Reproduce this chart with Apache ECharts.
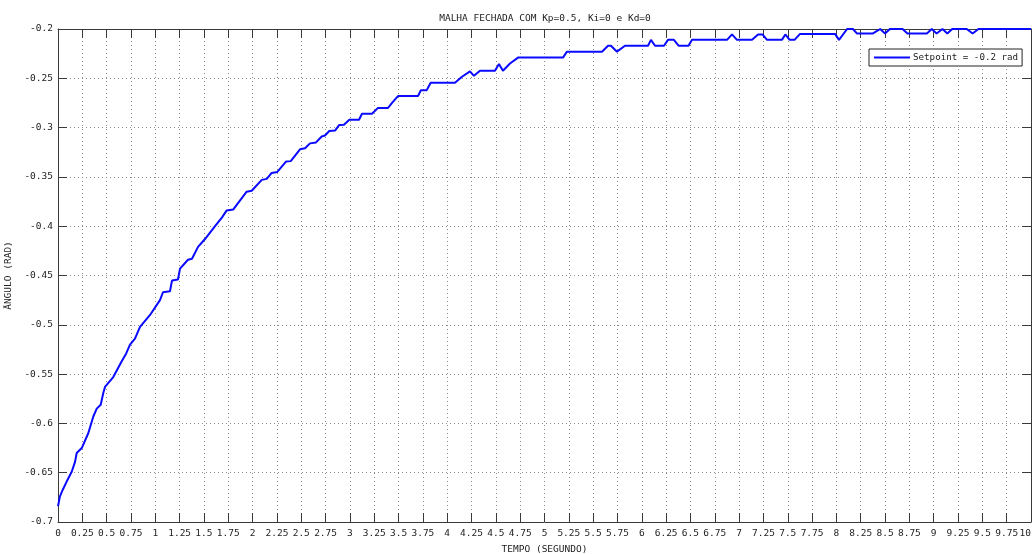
<!DOCTYPE html>
<html>
<head>
<meta charset="utf-8">
<script src="https://cdn.jsdelivr.net/npm/echarts@6/dist/echarts.min.js"></script>
<style>
  html, body { margin: 0; padding: 0; background: #fff; }
  #chart { width: 1033px; height: 554px; }
</style>
</head>
<body>
<div id="chart"></div>
<script>
// Closed-loop angle response (Kp=0.5, Ki=0, Kd=0)
const tempo = [
  0.000, 0.020, 0.048, 0.089, 0.141, 0.175, 0.192, 0.244, 0.311, 0.363,
  0.398, 0.439, 0.466, 0.483, 0.568, 0.655, 0.701, 0.740, 0.791, 0.843,
  0.946, 1.048, 1.079, 1.151, 1.172, 1.233, 1.254, 1.336, 1.377, 1.439,
  1.511, 1.614, 1.686, 1.734, 1.802, 1.939, 1.991, 2.094, 2.145, 2.196,
  2.254, 2.343, 2.392, 2.487, 2.539, 2.590, 2.652, 2.710, 2.744, 2.788,
  2.847, 2.891, 2.939, 2.994, 3.094, 3.124, 3.227, 3.289, 3.392, 3.433,
  3.494, 3.700, 3.730, 3.790, 3.830, 4.080, 4.152, 4.234, 4.275, 4.337,
  4.491, 4.532, 4.573, 4.645, 4.728, 5.190, 5.231, 5.591, 5.653, 5.683,
  5.745, 5.827, 6.064, 6.094, 6.136, 6.228, 6.269, 6.330, 6.380, 6.480,
  6.516, 6.876, 6.927, 6.978, 7.133, 7.195, 7.240, 7.287, 7.440, 7.475,
  7.520, 7.570, 7.626, 7.986, 8.027, 8.110, 8.170, 8.210, 8.376, 8.450,
  8.500, 8.550, 8.680, 8.730, 8.930, 8.980, 9.030, 9.090, 9.140, 9.190,
  9.340, 9.400, 9.460, 10.000
];
const angulo = [
  -0.684, -0.674, -0.6675, -0.659, -0.649, -0.639, -0.630, -0.625, -0.610, -0.593,
  -0.585, -0.581, -0.569, -0.563, -0.553, -0.537, -0.529, -0.520, -0.514, -0.502,
  -0.490, -0.475, -0.467, -0.466, -0.455, -0.454, -0.443, -0.434, -0.433, -0.421,
  -0.413, -0.400, -0.391, -0.384, -0.383, -0.365, -0.364, -0.353, -0.352, -0.346,
  -0.345, -0.3345, -0.334, -0.322, -0.321, -0.316, -0.315, -0.309, -0.308, -0.3034,
  -0.303, -0.2973, -0.297, -0.292, -0.292, -0.286, -0.286, -0.280, -0.280, -0.275,
  -0.268, -0.268, -0.262, -0.262, -0.2545, -0.2545, -0.2484, -0.243, -0.2475, -0.2423,
  -0.2423, -0.2355, -0.2423, -0.235, -0.229, -0.229, -0.223, -0.223, -0.217, -0.217,
  -0.223, -0.217, -0.217, -0.211, -0.217, -0.217, -0.211, -0.211, -0.217, -0.217,
  -0.211, -0.211, -0.2055, -0.211, -0.211, -0.2055, -0.2055, -0.211, -0.211, -0.2055,
  -0.211, -0.211, -0.205, -0.205, -0.211, -0.200, -0.200, -0.2045, -0.2045, -0.200,
  -0.2045, -0.200, -0.200, -0.2045, -0.2045, -0.200, -0.2045, -0.200, -0.2045, -0.200,
  -0.200, -0.2045, -0.200, -0.200
];

// Axis tick labels
const xTicks = ['0','0.25','0.5','0.75','1','1.25','1.5','1.75','2','2.25','2.5','2.75',
  '3','3.25','3.5','3.75','4','4.25','4.5','4.75','5','5.25','5.5','5.75','6','6.25',
  '6.5','6.75','7','7.25','7.5','7.75','8','8.25','8.5','8.75','9','9.25','9.5','9.75','10'];
const yTicks = ['-0.7','-0.65','-0.6','-0.55','-0.5','-0.45','-0.4','-0.35','-0.3','-0.25','-0.2'];

const titleText = 'MALHA FECHADA COM Kp=0.5, Ki=0 e Kd=0';
const xName = 'TEMPO (SEGUNDO)';
const yName = 'ÃNGULO (RAD)';
const seriesName = 'Setpoint = -0.2 rad';

const FONT = '"DejaVu Sans Mono", monospace';
const X_STEP = 0.25, Y_STEP = 0.05;

const points = tempo.map((t, i) => [t, angulo[i]]);

function tickLabel(list, min, step) {
  return v => {
    const idx = Math.round((v - min) / step);
    return list[idx] !== undefined ? list[idx] : '';
  };
}

const gridLine = { show: true, lineStyle: { color: '#8a8a8a', type: [1, 3], width: 1 } };
const axisLine = { show: true, onZero: false, lineStyle: { color: '#3a3a3a', width: 1 } };
const tickIn = { show: true, inside: true, length: 9, lineStyle: { color: '#3a3a3a', width: 1 } };

const chart = echarts.init(document.getElementById('chart'), null, { renderer: 'canvas' });
chart.setOption({
  animation: false,
  backgroundColor: '#ffffff',
  title: {
    text: titleText,
    left: 540, top: 9, textAlign: 'center',
    textStyle: { fontFamily: FONT, fontSize: 9.5, fontWeight: 'normal', color: '#222' }
  },
  legend: {
    show: true,
    left: 869, top: 49,
    padding: [4, 4, 4, 5],
    backgroundColor: '#ffffff',
    borderColor: '#222', borderWidth: 1,
    icon: 'rect',
    itemWidth: 36, itemHeight: 2, itemGap: 4,
    textStyle: { fontFamily: FONT, fontSize: 9.2, color: '#222', padding: [0, 0, 0, -2] }
  },
  grid: { left: 58, right: 2, top: 29, bottom: 32, containLabel: false, outerBoundsMode: 'none' },
  xAxis: [{
    type: 'value', min: 0, max: 10, interval: X_STEP,
    name: xName, nameLocation: 'middle', nameGap: 23,
    nameTextStyle: { fontFamily: FONT, fontSize: 9.5, color: '#222' },
    axisLine, axisTick: tickIn, splitLine: gridLine,
    axisLabel: { fontFamily: FONT, fontSize: 9.5, color: '#222', margin: 7,
      formatter: tickLabel(xTicks, 0, X_STEP), showMinLabel: true, showMaxLabel: true,
      alignMaxLabel: 'right' }
  }, {
    type: 'value', position: 'top', min: 0, max: 10, interval: X_STEP,
    axisLine, axisTick: tickIn, splitLine: { show: false }, axisLabel: { show: false }
  }],
  yAxis: [{
    type: 'value', min: -0.7, max: -0.2, interval: Y_STEP,
    name: yName, nameLocation: 'middle', nameGap: 40, nameRotate: 90,
    nameTextStyle: { fontFamily: FONT, fontSize: 9.5, color: '#222' },
    axisLine, axisTick: tickIn, splitLine: gridLine,
    axisLabel: { fontFamily: FONT, fontSize: 9.5, color: '#222', margin: 5,
      formatter: tickLabel(yTicks, -0.7, Y_STEP) }
  }, {
    type: 'value', position: 'right', min: -0.7, max: -0.2, interval: Y_STEP,
    axisLine, axisTick: tickIn, splitLine: { show: false }, axisLabel: { show: false }
  }],
  series: [{
    name: seriesName,
    type: 'line',
    data: points,
    symbol: 'none',
    lineStyle: { color: '#0a0aff', width: 2 },
    itemStyle: { color: '#0a0aff' }
  }]
});
</script>
</body>
</html>
